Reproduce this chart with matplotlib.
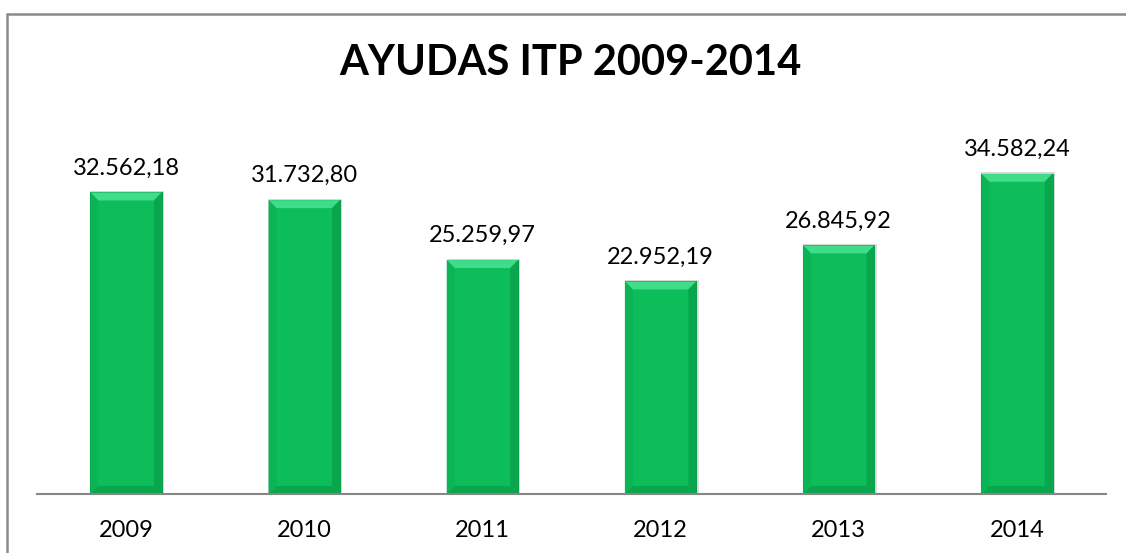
import matplotlib
matplotlib.use("Agg")
import matplotlib.pyplot as plt
from matplotlib.patches import Rectangle, Polygon

years = ["2009", "2010", "2011", "2012", "2013", "2014"]
values = [32562.18, 31732.80, 25259.97, 22952.19, 26845.92, 34582.24]
value_labels = ["32.562,18", "31.732,80", "25.259,97", "22.952,19", "26.845,92", "34.582,24"]
title = "AYUDAS ITP 2009-2014"

plt.rcParams['font.family'] = ['Lato', 'DejaVu Sans']

W, H = 1126, 553
fig = plt.figure(figsize=(W / 100, H / 100), dpi=100)
fig.patch.set_facecolor("white")

# outer chart border (left and top visible)
fig.add_artist(Rectangle((7 / W, -0.5), 2, 1.5 - 14 / H, transform=fig.transFigure,
                         fill=False, edgecolor="#8a8a8a", linewidth=1.8))

ymax = 40000
px_per_unit = 0.00926
ax = fig.add_axes([37 / W, (H - 494) / H, (1106 - 37) / W, ymax * px_per_unit / H])
ax.patch.set_alpha(0)
x = list(range(len(years)))
bw = 0.4

# soft shadow behind bars
ax.bar([xi + 0.006 for xi in x], [v + 150 for v in values], width=bw + 0.014,
       color="#c8c8c8", alpha=0.6, linewidth=0, zorder=1)
bars = ax.bar(x, values, width=bw, color="#0cbd5a", edgecolor="#0a9e4c", linewidth=0.8, zorder=2)

ax.set_xlim(-0.5, len(years) - 0.5)
ax.set_ylim(0, ymax)

# bevel effect on each bar
for b in bars:
    x0, w, h = b.get_x(), b.get_width(), b.get_height()
    dx = w * 0.11
    dy = 8 / px_per_unit
    ax.add_patch(Polygon([(x0, h), (x0 + w, h), (x0 + w - dx, h - dy), (x0 + dx, h - dy)],
                         closed=True, facecolor="#3fdc8a", edgecolor="none", zorder=3))
    ax.add_patch(Polygon([(x0, h), (x0 + dx, h - dy), (x0 + dx, dy), (x0, 0)],
                         closed=True, facecolor="#0bb455", edgecolor="none", zorder=3))
    ax.add_patch(Polygon([(x0 + w, h), (x0 + w - dx, h - dy), (x0 + w - dx, dy), (x0 + w, 0)],
                         closed=True, facecolor="#0aa64e", edgecolor="none", zorder=3))
    ax.add_patch(Polygon([(x0, 0), (x0 + dx, dy), (x0 + w - dx, dy), (x0 + w, 0)],
                         closed=True, facecolor="#0aa64e", edgecolor="none", zorder=3))

for xi, v, lab in zip(x, values, value_labels):
    ax.annotate(lab, (xi, v), xytext=(0, 13), textcoords="offset points",
                ha="center", va="baseline", fontsize=17, color="#000000")

for s in ["top", "right", "left"]:
    ax.spines[s].set_visible(False)
ax.spines["bottom"].set_color("#868686")
ax.spines["bottom"].set_linewidth(1.5)
ax.spines["bottom"].set_zorder(4)
ax.set_yticks([])
ax.set_xticks(x)
ax.set_xticklabels(years, fontsize=17)
ax.tick_params(axis="x", length=0, pad=19)

fig.text(570 / W, 1 - 63 / H, title, ha="center", va="center", fontsize=30, fontweight="bold")

fig.savefig("out.png", dpi=100)
